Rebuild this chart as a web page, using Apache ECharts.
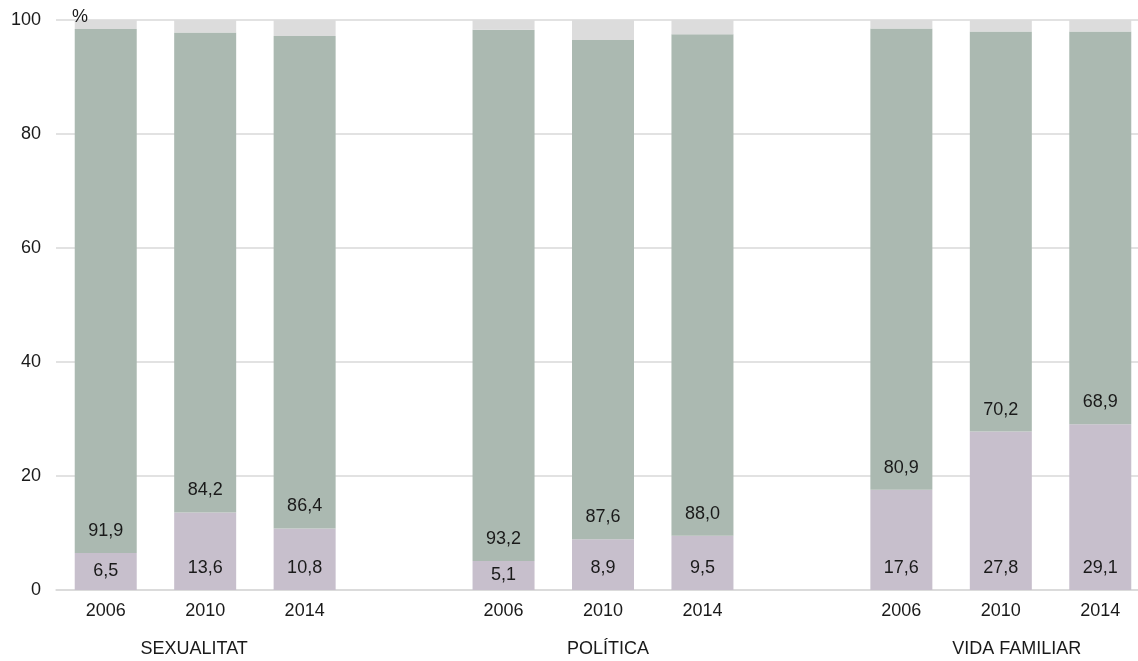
<!DOCTYPE html>
<html>
<head>
<meta charset="utf-8">
<script src="https://cdn.jsdelivr.net/npm/echarts@6/dist/echarts.min.js"></script>
<style>html,body{margin:0;padding:0;background:#fff;overflow:hidden}#c{width:1150px;height:661px}</style>
</head>
<body>
<div id="c"></div>
<script>
const years = ['2006','2010','2014','','2006','2010','2014','','2006','2010','2014'];
const groups = ['', 'SEXUALITAT', '', '', '', 'POLÍTICA', '', '', '', 'VIDA FAMILIAR', ''];
const bottomVals = [6.5, 13.6, 10.8, null, 5.1, 8.9, 9.5, null, 17.6, 27.8, 29.1];
const middleVals = [91.9, 84.2, 86.4, null, 93.2, 87.6, 88.0, null, 80.9, 70.2, 68.9];
const topVals = [1.6, 2.2, 2.8, null, 1.7, 3.5, 2.5, null, 1.5, 2.0, 2.0];
const yTicks = [0, 20, 40, 60, 80, 100];

const fmt = p => p.value == null ? '' : p.value.toFixed(1).replace('.', ',');
const font = 'Liberation Sans, Arial, sans-serif';
const chart = echarts.init(document.getElementById('c'));
const groupPad = {1: [0,22,0,0], 5: [0,0,0,10], 9: [0,0,0,32]};
const lbl = {color: '#1a1a1a', fontSize: 18, fontFamily: font};
chart.setOption({
  animation: false,
  grid: {left: 56, right: 0, top: 20, bottom: 71},
  graphic: [{type: 'text', left: 72, top: 8, z: 100, zlevel: 1, style: {text: '%', font: '18px ' + font, fill: '#1a1a1a'}}],
  xAxis: [{
    type: 'category', data: years,
    axisTick: {show: false},
    axisLine: {lineStyle: {color: '#d9d9d9', width: 1.5}},
    axisLabel: Object.assign({margin: 12, interval: 0}, lbl)
  }, {
    type: 'category', position: 'bottom', offset: 38,
    data: groups.map((g, i) => groupPad[i] ? {value: g, textStyle: {padding: groupPad[i]}} : g),
    axisTick: {show: false}, axisLine: {show: false},
    axisLabel: Object.assign({margin: 12, interval: 0}, lbl)
  }],
  yAxis: {
    type: 'value', min: yTicks[0], max: yTicks[yTicks.length - 1], interval: 20,
    axisLabel: Object.assign({margin: 15}, lbl),
    splitLine: {lineStyle: {color: '#d9d9d9', width: 1.5}},
    axisLine: {show: false}, axisTick: {show: false}
  },
  series: [
    {type: 'bar', stack: 's', barWidth: 62,
     data: bottomVals.map(v => (v != null && v < 8) ? {value: v, label: {position: 'inside'}} : v),
     itemStyle: {color: '#c7bfcc'},
     label: Object.assign({show: true, position: 'insideBottom', distance: 13, formatter: fmt}, lbl)},
    {type: 'bar', stack: 's', data: middleVals, barWidth: 62,
     itemStyle: {color: '#abb9b1'},
     label: Object.assign({show: true, position: 'insideBottom', distance: 13, formatter: fmt}, lbl)},
    {type: 'bar', stack: 's', data: topVals, barWidth: 62,
     itemStyle: {color: '#dcdcdc'}}
  ]
});
</script>
</body>
</html>
